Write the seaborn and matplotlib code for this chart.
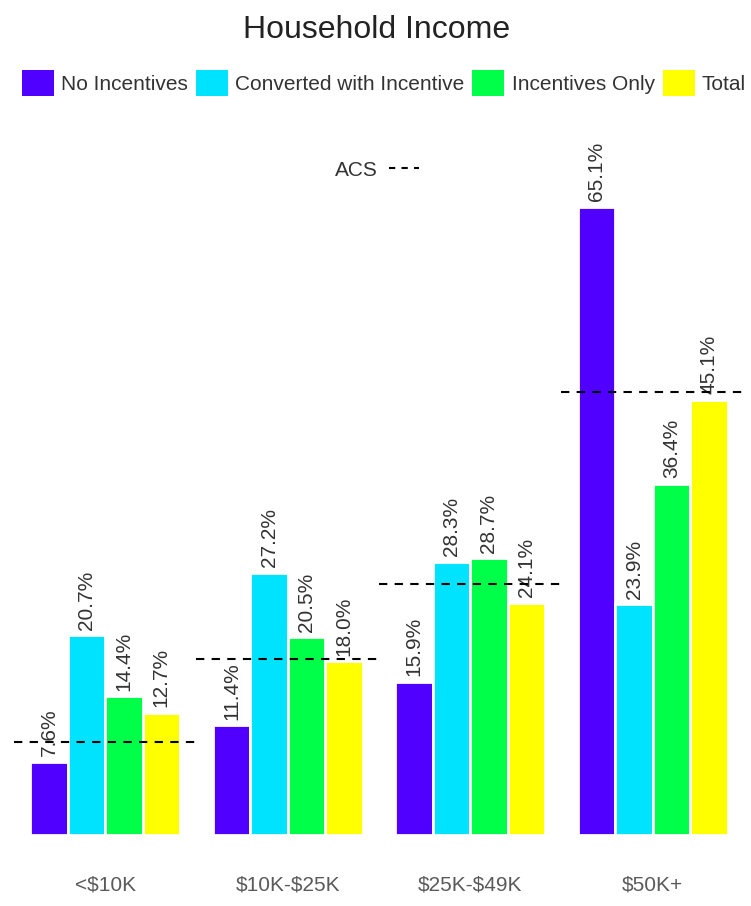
import numpy as np
import pandas as pd
import matplotlib
matplotlib.use("Agg")
import matplotlib.pyplot as plt
from matplotlib.patches import Patch
from matplotlib.lines import Line2D
import seaborn as sns

# data
income_bins = ["<$10K", "$10K-$25K", "$25K-$49K", "$50K+"]
groups = ["No Incentives", "Converted with Incentive", "Incentives Only", "Total"]
no_incentives = [7.6, 11.4, 15.9, 65.1]
converted = [20.7, 27.2, 28.3, 23.9]
incentives_only = [14.4, 20.5, 28.7, 36.4]
total = [12.7, 18.0, 24.1, 45.1]
acs = [9.6, 18.3, 26.0, 45.9]

colors = ["#4F00FF", "#00E3FF", "#00FF48", "#FFFF00"]

# long table for seaborn
df = pd.DataFrame({
    "income": income_bins * 4,
    "group": np.repeat(groups, len(income_bins)),
    "pct": no_incentives + converted + incentives_only + total,
})

sns.set_style("white")
plt.rcParams["font.family"] = ["Liberation Sans", "DejaVu Sans"]

fig = plt.figure(figsize=(7.51, 9.06), dpi=100)
ax = fig.add_axes([14 / 751, (906 - 835.1) / 906, 730 / 751, 72 * 9.65 / 906])

sns.barplot(data=df, x="income", y="pct", hue="group", order=income_bins,
            hue_order=groups, palette=colors, saturation=1, width=0.82,
            edgecolor="white", linewidth=2, ax=ax)
ax.get_legend().remove()

# value labels on top of each bar
for cont in ax.containers:
    vals = cont.datavalues
    ax.bar_label(cont, labels=[f"{v:.1f}%" for v in vals], rotation=90,
                 padding=4, fontsize=15, color="#333333")

# ACS reference lines, one per income bin
for i, v in enumerate(acs):
    ax.hlines(v, i - 0.5, i + 0.5, colors="black", linestyles=(0, (4, 3.5)),
              linewidth=1.5, zorder=5)

ax.set_xlim(-0.5, 3.5)
ax.set_ylim(0, 72)
ax.set_xlabel("")
ax.set_ylabel("")
ax.set_yticks([])
# dollar signs would otherwise switch on mathtext
ax.set_xticks(range(len(income_bins)))
ax.set_xticklabels([s.replace("$", r"\$") for s in income_bins])
ax.tick_params(axis="x", length=0, pad=29, labelsize=15, labelcolor="#5a5a5a")
sns.despine(ax=ax, left=True, bottom=True)

# small ACS key inside the plot
acs_handle = Line2D([], [], color="black", linestyle=(0, (3, 3)), linewidth=1.5)
ax.legend([acs_handle], ["ACS"], loc="center", bbox_to_anchor=(1.49, 68.9),
          bbox_transform=ax.transData, markerfirst=False, frameon=False,
          fontsize=15, handlelength=1.45, handletextpad=0.55, borderpad=0,
          labelcolor="#333333")

# group legend across the top
handles = [Patch(facecolor=c, edgecolor="none") for c in colors]
fig.legend(handles, groups, loc="center", bbox_to_anchor=(384 / 751, 1 - 83 / 906),
           ncol=4, frameon=False, fontsize=15, handlelength=1.54, handleheight=1.54,
           handletextpad=0.34, columnspacing=0.38, borderpad=0, labelcolor="#333333")

fig.text(377 / 751, 1 - 30 / 906, "Household Income", ha="center", va="center",
         fontsize=23, color="#222222")

fig.savefig("out.png", dpi=100)
